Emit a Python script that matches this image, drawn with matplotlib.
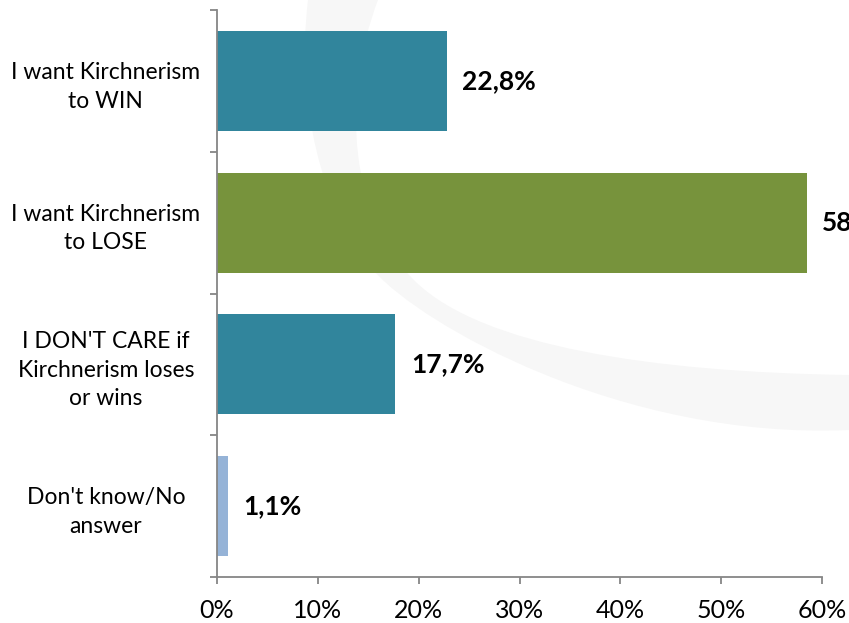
import matplotlib
matplotlib.use("Agg")
import matplotlib.pyplot as plt
from matplotlib.path import Path
from matplotlib.patches import PathPatch
from matplotlib.ticker import FixedLocator, PercentFormatter

# data
categories = ["I want Kirchnerism\nto WIN",
              "I want Kirchnerism\nto LOSE",
              "I DON'T CARE if\nKirchnerism loses\nor wins",
              "Don't know/No\nanswer"]
values = [22.8, 58.5, 17.7, 1.1]
labels = ["22,8%", "58,5%", "17,7%", "1,1%"]
colors = ["#31859C", "#77933C", "#31859C", "#95B3D7"]
xticks = [0, 10, 20, 30, 40, 50, 60]

plt.rcParams['font.family'] = ['Lato', 'DejaVu Sans']

fig = plt.figure(figsize=(8.49, 6.23), dpi=100)

# faint swoosh watermark in the background (pixel coords of the image)
bg = fig.add_axes([0, 0, 1, 1], zorder=0)
bg.set_xlim(0, 849)
bg.set_ylim(623, 0)
bg.axis("off")
verts = [(308, 0), (296, 100), (320, 210), (375, 272),
         (420, 323), (620, 440), (849, 430),
         (900, 428), (900, 370), (849, 375),
         (650, 372), (484, 346), (417, 283),
         (350, 220), (340, 100), (378, 0),
         (308, 0)]
codes = [Path.MOVETO] + [Path.CURVE4] * 6 + [Path.LINETO] * 3 + [Path.CURVE4] * 6 + [Path.CLOSEPOLY]
bg.add_patch(PathPatch(Path(verts, codes), facecolor="#f7f7f7", edgecolor="none"))

ax = fig.add_axes([217 / 849, 1 - 577 / 623, 605 / 849, 567 / 623], zorder=1)
ax.patch.set_alpha(0)

y = list(range(len(categories)))
ax.barh(y, values, height=0.705, color=colors)

for yi, v, lab in zip(y, values, labels):
    ax.annotate(lab, (v, yi), xytext=(11, 0), textcoords="offset points",
                ha="left", va="center", fontsize=19, fontweight="bold",
                annotation_clip=False)

ax.set_xlim(0, 60)
ax.set_ylim(3.5, -0.5)
ax.set_xticks(xticks)
ax.xaxis.set_major_formatter(PercentFormatter(decimals=0))
ax.set_yticks(y)
ax.set_yticklabels(categories, fontsize=16.5, ha="center", multialignment="center",
                   linespacing=1.45)
ax.yaxis.set_minor_locator(FixedLocator([-0.5, 0.5, 1.5, 2.5, 3.5]))

for s in ["top", "right"]:
    ax.spines[s].set_visible(False)
for s in ["left", "bottom"]:
    ax.spines[s].set_color("#868686")
    ax.spines[s].set_linewidth(1.3)

ax.tick_params(axis="y", which="major", length=0, pad=80)
ax.tick_params(axis="y", which="minor", length=5, width=1.3, color="#868686", direction="out")
ax.tick_params(axis="x", length=5, width=1.3, color="#868686", direction="out",
               labelsize=18, pad=11)

fig.savefig("out.png", dpi=100)
